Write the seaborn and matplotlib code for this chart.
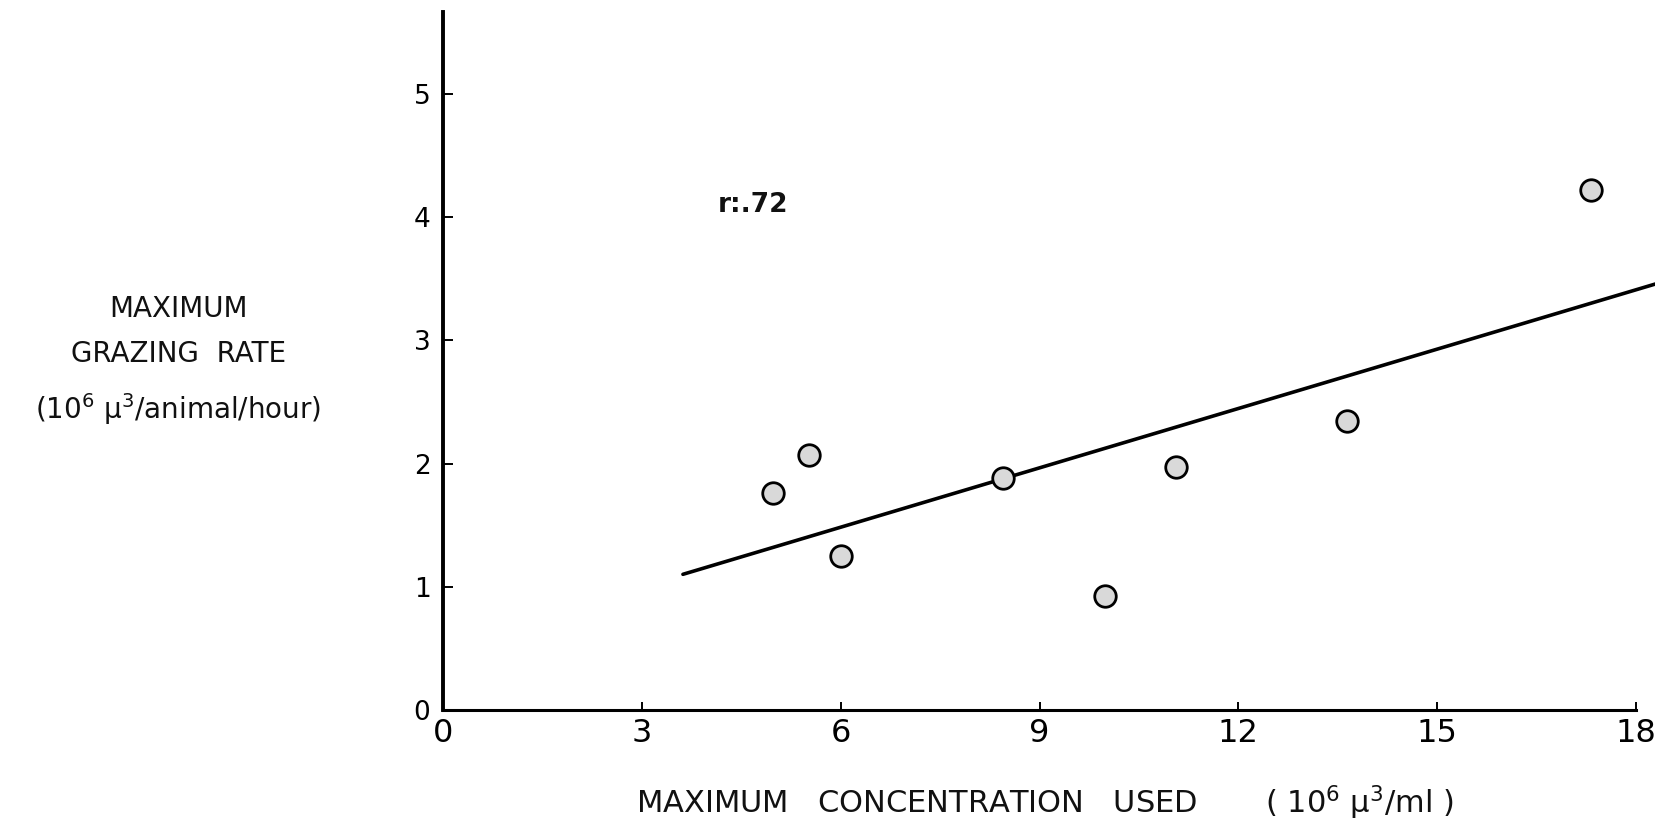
import matplotlib
matplotlib.use("Agg")
import matplotlib.pyplot as plt
import seaborn as sns
import pandas as pd

# ---- data ----
concentration = [4.98, 5.52, 6.01, 8.45, 9.98, 11.06, 13.64, 17.32]
grazing_rate = [1.76, 2.07, 1.25, 1.885, 0.92, 1.97, 2.345, 4.22]
fit_x = [3.62, 18.3]
fit_y = [1.10, 3.46]
x_ticks = [0, 3, 6, 9, 12, 15, 18]
y_ticks = [0, 1, 2, 3, 4, 5]
r_label = "r:.72"

sns.set_theme(style="white")
plt.rcParams["font.family"] = ["DejaVu Sans"]
plt.rcParams["mathtext.default"] = "regular"

fig = plt.figure(figsize=(16.56, 8.24), dpi=100)
fig.patch.set_facecolor("white")
ax = fig.add_axes([0.2675, 0.1387, 0.7325, 0.847])
ax.set_facecolor("white")

pts = pd.DataFrame({"conc": concentration, "rate": grazing_rate})
fit = pd.DataFrame({"x": fit_x, "y": fit_y})

sns.lineplot(data=fit, x="x", y="y", color="black", linewidth=2.6, ax=ax,
             solid_capstyle="round", zorder=2)
sns.scatterplot(data=pts, x="conc", y="rate", s=240, color="#d9d9d9",
                edgecolor="black", linewidth=2.0, ax=ax, zorder=3)

ax.set_xlim(0, 18.3)
ax.set_ylim(0, 5.67)
ax.set_xticks(x_ticks)
ax.set_yticks(y_ticks)
ax.set_xticklabels([str(t) for t in x_ticks], fontsize=23)
ax.set_yticklabels([str(t) for t in y_ticks], fontsize=19)

for side in ["top", "right"]:
    ax.spines[side].set_visible(False)
ax.spines["left"].set_linewidth(2.8)
ax.spines["left"].set_color("black")
ax.spines["bottom"].set_linewidth(2.2)
ax.spines["bottom"].set_color("black")
ax.spines["bottom"].set_bounds(0, 18)

ax.tick_params(axis="y", direction="in", length=7, width=1.4, pad=9, colors="black", left=True)
ax.tick_params(axis="x", direction="in", length=6, width=1.4, pad=6, colors="black", bottom=True)

ax.text(4.15, 4.1, r_label, fontsize=19, fontweight="bold", va="center", ha="left",
        color="#111111")

ax.set_xlabel("MAXIMUM   CONCENTRATION   USED       ( $10^6$ $\\mu^3$/ml )",
              fontsize=22, color="#111111", va="baseline")
ax.xaxis.set_label_coords(0.496, -0.148)

ax.set_ylabel("MAXIMUM\nGRAZING  RATE\n($10^6$ $\\mu^3$/animal/hour)",
              fontsize=20, rotation=0, ha="center", va="center",
              linespacing=1.8, color="#111111")
ax.yaxis.set_label_coords(-0.218, 0.50)

fig.savefig("out.png", dpi=100, facecolor="white")
